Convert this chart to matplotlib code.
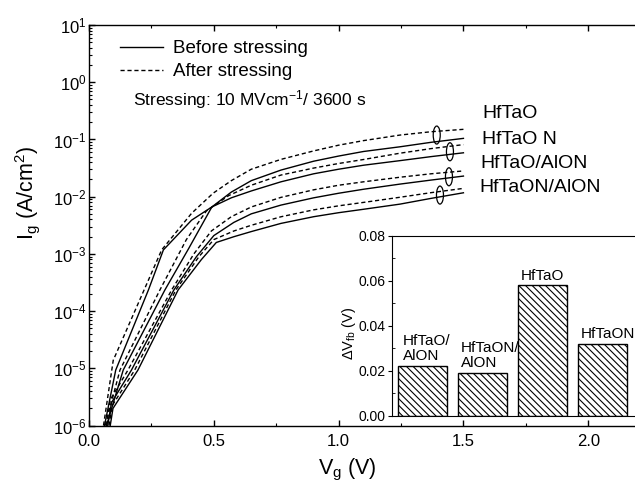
import numpy as np
import matplotlib
matplotlib.use("Agg")
import matplotlib.pyplot as plt
from matplotlib.patches import Ellipse
from matplotlib.lines import Line2D
from matplotlib.ticker import MultipleLocator, LogLocator, NullFormatter

plt.rcParams['font.family'] = ['Liberation Sans', 'DejaVu Sans']
plt.rcParams['mathtext.fontset'] = 'custom'
plt.rcParams['mathtext.rm'] = 'Liberation Sans'
plt.rcParams['mathtext.it'] = 'Liberation Sans:italic'
plt.rcParams['mathtext.default'] = 'regular'
plt.rcParams['hatch.linewidth'] = 0.8

# ---------------- data (log10 of Ig in A/cm^2 vs Vg in V) ----------------
# HfTaO
v_hftao_after = [0.058, 0.097, 0.291, 0.411, 0.497, 0.57, 0.65, 0.769, 0.9, 1.0, 1.1, 1.246, 1.37, 1.5]
lg_hftao_after = [-6.0, -4.86, -2.93, -2.29, -1.94, -1.72, -1.52, -1.348, -1.20, -1.10, -1.02, -0.923, -0.865, -0.823]
v_hftao_before = [0.07, 0.137, 0.304, 0.40, 0.492, 0.57, 0.65, 0.769, 0.9, 1.0, 1.1, 1.246, 1.37, 1.5]
lg_hftao_before = [-6.0, -5.03, -3.63, -2.9, -2.18, -1.92, -1.72, -1.535, -1.38, -1.29, -1.21, -1.128, -1.05, -0.981]
# HfTaON
v_hftaon_after = [0.065, 0.124, 0.284, 0.39, 0.47, 0.56, 0.65, 0.769, 0.9, 1.0, 1.1, 1.246, 1.37, 1.5]
lg_hftaon_after = [-6.0, -5.03, -3.63, -2.75, -2.25, -1.98, -1.80, -1.622, -1.50, -1.42, -1.35, -1.24, -1.16, -1.09]
v_hftaon_before = [0.062, 0.107, 0.238, 0.298, 0.411, 0.492, 0.57, 0.65, 0.769, 0.9, 1.0, 1.1, 1.246, 1.37, 1.5]
lg_hftaon_before = [-6.0, -5.03, -3.63, -2.93, -2.41, -2.18, -2.02, -1.90, -1.74, -1.60, -1.52, -1.45, -1.37, -1.30, -1.233]
# HfTaO/AlON
v_hftao_alon_after = [0.07, 0.085, 0.156, 0.331, 0.42, 0.49, 0.57, 0.65, 0.769, 0.9, 1.0, 1.1, 1.246, 1.37, 1.5]
lg_hftao_alon_after = [-6.0, -5.55, -5.03, -3.63, -3.0, -2.6, -2.35, -2.18, -2.012, -1.88, -1.80, -1.74, -1.66, -1.60, -1.55]
v_hftao_alon_before = [0.075, 0.09, 0.17, 0.34, 0.43, 0.5, 0.58, 0.65, 0.769, 0.9, 1.0, 1.1, 1.246, 1.37, 1.5]
lg_hftao_alon_before = [-6.0, -5.6, -5.03, -3.63, -3.05, -2.68, -2.45, -2.30, -2.147, -2.02, -1.94, -1.87, -1.78, -1.71, -1.64]
# HfTaON/AlON
v_hftaon_alon_after = [0.08, 0.093, 0.183, 0.348, 0.44, 0.5, 0.58, 0.65, 0.769, 0.9, 1.0, 1.1, 1.246, 1.37, 1.5]
lg_hftaon_alon_after = [-6.0, -5.65, -5.03, -3.63, -3.05, -2.75, -2.6, -2.50, -2.351, -2.23, -2.16, -2.10, -2.01, -1.93, -1.855]
v_hftaon_alon_before = [0.085, 0.096, 0.196, 0.357, 0.45, 0.51, 0.58, 0.65, 0.769, 0.9, 1.0, 1.1, 1.246, 1.37, 1.5]
lg_hftaon_alon_before = [-6.0, -5.7, -5.03, -3.63, -3.1, -2.8, -2.7, -2.61, -2.467, -2.35, -2.28, -2.22, -2.13, -2.03, -1.932]

curve_labels = ["HfTaO", "HfTaO N", "HfTaO/AlON", "HfTaON/AlON"]
ellipse_v = [1.393, 1.446, 1.442, 1.406]
ellipse_lg = [-0.923, -1.215, -1.652, -1.972]
label_v = [1.577, 1.573, 1.566, 1.562]
label_lg = [-0.538, -0.998, -1.418, -1.837]

# inset bar chart
bar_labels = ["HfTaO/\nAlON", "HfTaON/\nAlON", "HfTaO", "HfTaON"]
bar_values = [0.022, 0.019, 0.058, 0.032]

# ---------------- figure ----------------
fig = plt.figure(figsize=(6.35, 4.88), dpi=100)
ax = fig.add_axes([0.1402, 0.128, 0.8687, 0.8207])

after = [(v_hftao_after, lg_hftao_after), (v_hftaon_after, lg_hftaon_after),
         (v_hftao_alon_after, lg_hftao_alon_after), (v_hftaon_alon_after, lg_hftaon_alon_after)]
before = [(v_hftao_before, lg_hftao_before), (v_hftaon_before, lg_hftaon_before),
          (v_hftao_alon_before, lg_hftao_alon_before), (v_hftaon_alon_before, lg_hftaon_alon_before)]

for v, lg in before:
    ax.plot(v, 10.0 ** np.array(lg), color='black', lw=1.0, ls='-')
for v, lg in after:
    ax.plot(v, 10.0 ** np.array(lg), color='black', lw=1.0, ls=(0, (3, 2)))

ax.set_yscale('log')
ax.set_xlim(0, 2.21)
ax.set_ylim(1e-6, 10)

ax.xaxis.set_major_locator(MultipleLocator(0.5))
ax.xaxis.set_minor_locator(MultipleLocator(0.25))
ax.xaxis.set_major_formatter(matplotlib.ticker.FormatStrFormatter('%.1f'))
ax.yaxis.set_major_locator(LogLocator(base=10, numticks=20))
ax.yaxis.set_minor_locator(LogLocator(base=10, subs=np.arange(2, 10), numticks=20))
ax.yaxis.set_minor_formatter(NullFormatter())
ax.tick_params(which='both', direction='in', top=True, right=True, labelsize=12)
ax.tick_params(which='major', length=4, width=1)
ax.tick_params(which='minor', length=2.2, width=0.8)
ax.tick_params(axis='x', which='major', pad=6)
ax.tick_params(axis='y', which='major', pad=2)
for s in ax.spines.values():
    s.set_linewidth(1.0)

ax.set_xlabel('V$_g$ (V)', fontsize=15.5)
ax.xaxis.set_label_coords(0.469, -0.079)
ax.xaxis.label.set_va('top')
ax.set_ylabel('I$_g$ (A/cm$^2$)', fontsize=15.5)
ax.yaxis.set_label_coords(-0.085, 0.58)

# ellipses & labels
fig.canvas.draw()
to_axes = ax.transData + ax.transAxes.inverted()
bbox = ax.get_window_extent()
ew = 7.0 / bbox.width
eh = 18.0 / bbox.height
for ev, el in zip(ellipse_v, ellipse_lg):
    cx, cy = to_axes.transform((ev, 10.0 ** el))
    ax.add_patch(Ellipse((cx, cy), ew, eh, transform=ax.transAxes,
                         fill=False, edgecolor='black', lw=0.9))
for lab, lv, ll in zip(curve_labels, label_v, label_lg):
    ax.text(lv, 10.0 ** ll, lab, fontsize=14, ha='left', va='center')

# legend
handles = [Line2D([], [], color='black', lw=1.0, ls='-'),
           Line2D([], [], color='black', lw=1.0, ls=(0, (3, 2)))]
leg = ax.legend(handles, ['Before stressing', 'After stressing'], loc='upper left',
                bbox_to_anchor=(0.056, 0.962), frameon=False, fontsize=13.5,
                handlelength=2.3, handletextpad=0.55, labelspacing=0.3,
                borderpad=0, borderaxespad=0)
ax.text(0.0797, 0.8127, 'Stressing: 10 MVcm$^{-1}$/ 3600 s', transform=ax.transAxes,
        fontsize=12.5, ha='left', va='center')

# ---------------- inset ----------------
ins = fig.add_axes([0.6173, 0.1482, 0.389, 0.3682])
ins.set_facecolor('white')
xpos = np.arange(len(bar_values))
ins.bar(xpos, bar_values, width=0.81, color='white', edgecolor='black', lw=1.0,
        hatch='\\' * 5)
ins.set_xlim(-0.5, 3.6)
ins.set_ylim(0, 0.08)
ins.set_xticks([])
ins.yaxis.set_major_locator(MultipleLocator(0.02))
ins.yaxis.set_minor_locator(MultipleLocator(0.01))
ins.yaxis.set_major_formatter(matplotlib.ticker.FormatStrFormatter('%.2f'))
ins.tick_params(axis='y', which='major', direction='out', length=3, labelsize=10, pad=1.5)
ins.tick_params(axis='y', which='minor', direction='in', length=2)
ins.spines['right'].set_visible(False)
ins.set_ylabel(r'$\Delta$V$_{fb}$ (V)', fontsize=10.5)
ins.yaxis.set_label_coords(-0.138, 0.46)

offsets_x = [0.09, 0.045, 0.0, 0.045]
for i, (lab, val) in enumerate(zip(bar_labels, bar_values)):
    if i == 2:
        ins.annotate(lab, xy=(xpos[i], val), xytext=(0, 2), textcoords='offset points',
                     ha='center', va='bottom', fontsize=11)
    else:
        ins.annotate(lab, xy=(xpos[i] - 0.405 + offsets_x[i], val), xytext=(0, 2),
                     textcoords='offset points', ha='left', va='bottom', fontsize=11,
                     linespacing=1.1)

fig.savefig('out.png', dpi=100)
